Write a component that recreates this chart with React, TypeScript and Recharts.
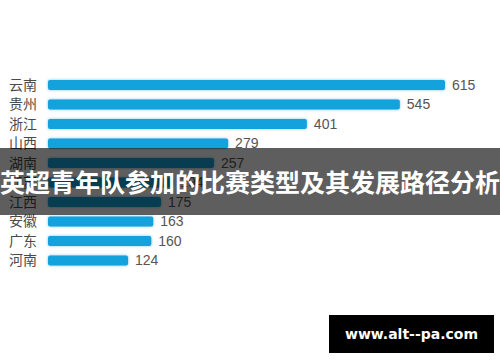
import { BarChart, Bar, XAxis, YAxis, LabelList } from 'recharts';

const provinces = ['云南', '贵州', '浙江', '山西', '湖南', '江苏', '江西', '安徽', '广东', '河南'];
const counts = [615, 545, 401, 279, 257, 194, 175, 163, 160, 124];

const bannerText = '英超青年队参加的比赛类型及其发展路径分析';
const watermark = 'www.alt--pa.com';

const data = provinces.map((name, i) => ({ name, value: counts[i] }));

const cjk = '"Noto Sans CJK SC", "Noto Sans", sans-serif';

export default function App() {
  return (
    <div style={{ position: 'absolute', left: 0, top: 0, width: 500, height: 362, background: '#fff', overflow: 'hidden' }}>
      <BarChart
        width={500}
        height={362}
        layout="vertical"
        data={data}
        margin={{ top: 75, right: 55, bottom: 92, left: 0 }}
        barCategoryGap={0}
      >
        <XAxis type="number" domain={[0, 615]} hide />
        <YAxis
          type="category"
          dataKey="name"
          width={48}
          axisLine={false}
          tickLine={false}
          tickMargin={5}
          tick={{ fill: '#4a4a4a', fontSize: 14, fontFamily: cjk }}
          interval={0}
        />
        <Bar
          dataKey="value"
          fill="#13a2dc"
          barSize={10}
          radius={2}
          isAnimationActive={false}
          style={{ filter: 'drop-shadow(0 0 1.5px rgba(20,150,210,0.55))' }}
        >
          <LabelList dataKey="value" position="right" offset={7} fill="#555" fontSize={14} fontFamily='"Liberation Sans", Arial, sans-serif' />
        </Bar>
      </BarChart>
      <div
        style={{
          position: 'absolute',
          left: 0,
          top: 148,
          width: 500,
          height: 67,
          background: 'rgba(0,0,0,0.63)',
          color: '#fff',
          fontFamily: cjk,
          fontWeight: 700,
          fontSize: 25,
          lineHeight: '67px',
          textAlign: 'center',
          whiteSpace: 'nowrap',
        }}
      >
        {bannerText}
      </div>
      <div
        style={{
          position: 'absolute',
          left: 329,
          top: 315,
          width: 165,
          height: 38,
          background: '#000',
          color: '#fff',
          fontFamily: '"DejaVu Sans", sans-serif',
          fontWeight: 700,
          fontSize: 14,
          lineHeight: '38px',
          textAlign: 'center',
        }}
      >
        {watermark}
      </div>
    </div>
  );
}
